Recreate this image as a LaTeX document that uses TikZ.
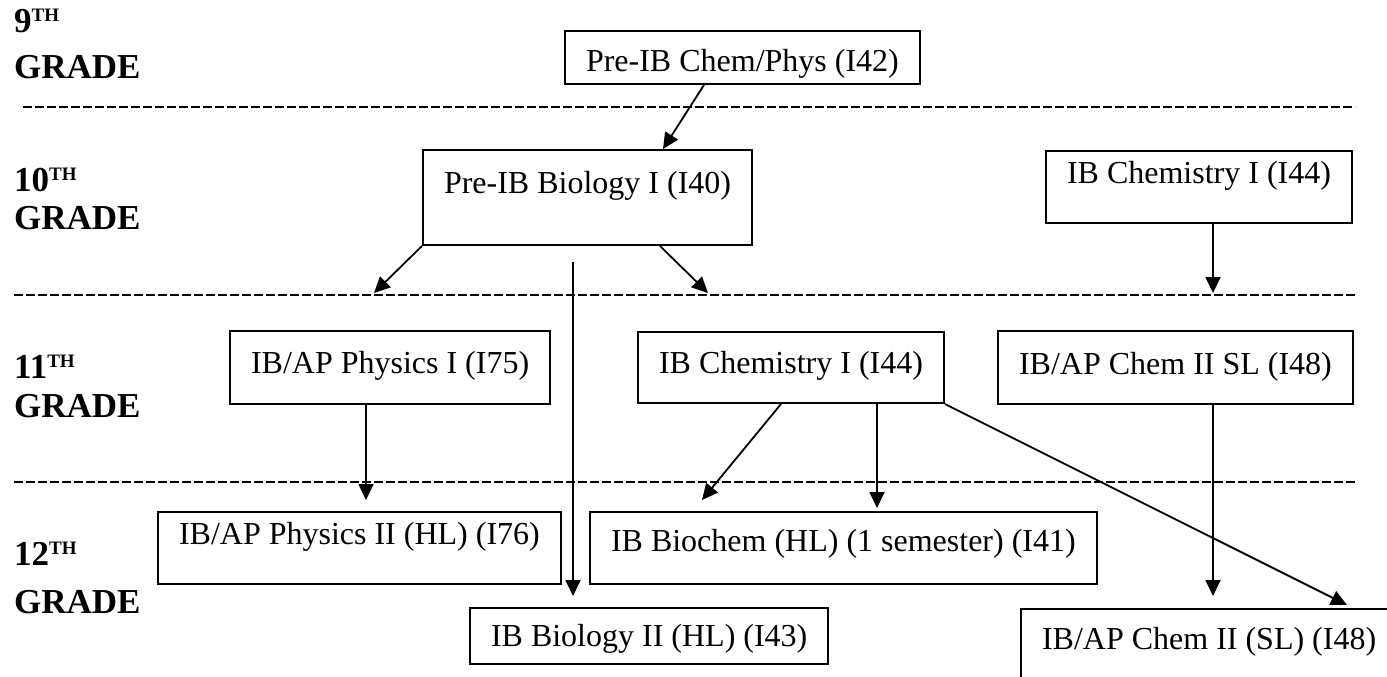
\documentclass[tikz,border=0pt]{standalone}
\usepackage{fontspec}
\setmainfont{Liberation Serif}
\usepackage{tikz}
\usetikzlibrary{arrows.meta}

\newcommand{\gradesup}[1]{\raisebox{11pt}{\fontsize{19}{19}\selectfont #1}}
\tikzset{
  course/.style={draw, line width=2pt, inner xsep=21pt, inner ysep=0pt, anchor=north west, font=\fontsize{32}{38}\selectfont},
  arr/.style={-{Triangle[length=16pt,width=15pt]}, line width=1.8pt},
  divider/.style={dash pattern=on 8.5pt off 3.5pt, line width=2.6pt},
  grade/.style={anchor=base west, inner sep=0pt, font=\fontsize{35}{40}\selectfont\bfseries}
}

\begin{document}
\begin{tikzpicture}[x=1pt,y=-1pt]
\useasboundingbox (0,0) rectangle (1387,677);
\node[grade] (n9) at (14,33) {9\gradesup{TH}};
\node[grade] (g9) at (14,78) {GRADE};
\node[grade] (n10) at (14,191) {10\gradesup{TH}};
\node[grade] (g10) at (14,229) {GRADE};
\node[grade] (n11) at (14,378) {11\gradesup{TH}};
\node[grade] (g11) at (14,417) {GRADE};
\node[grade] (n12) at (14,565) {12\gradesup{TH}};
\node[grade] (g12) at (14,613) {GRADE};
\draw[divider] (23,107) -- (1355,107);
\draw[divider] (14,295) -- (1355,295);
\draw[divider] (14,482) -- (1355,482);
\node[course, text height=40pt, text depth=13pt] (chemphys) at (564,30) {Pre-IB Chem/Phys (I42)};
\node[course, text height=43pt, text depth=52pt] (bio) at (422,149) {Pre-IB Biology I (I40)};
\node[course, text height=32pt, text depth=40pt] (chemten) at (1045,150) {IB Chemistry I (I44)};
\node[course, text height=42pt, text depth=31pt] (phys) at (229,330) {IB/AP Physics I (I75)};
\node[course, text height=41pt, text depth=30pt] (chem) at (637,331) {IB Chemistry I (I44)};
\node[course, text height=43pt, text depth=30pt] (chemsl) at (997,330) {IB/AP Chem II SL (I48)};
\node[course, text height=32pt, text depth=40pt] (physhl) at (157,511) {IB/AP Physics II (HL) (I76)};
\node[course, text height=39pt, text depth=33pt] (biochem) at (589,511) {IB Biochem (HL) (1 semester) (I41)};
\node[course, text height=38pt, text depth=18pt] (biohl) at (469,607) {IB Biology II (HL) (I43)};
\node[course, text height=40pt, text depth=60pt] (chemii) at (1020,608) {IB/AP Chem II (SL) (I48)\hspace{30pt}};
\coordinate (tphys) at (374,293);
\coordinate (tchem) at (708,293);
\coordinate (sbiohl) at (573,262);
\coordinate (tbiohl) at (573,596);
\coordinate (tchemsl) at (1213,293);
\coordinate (tphyshl) at (366,500);
\coordinate (tbiochema) at (702,500);
\coordinate (tbiochemb) at (877,508);
\coordinate (tchemiia) at (1213,596);
\coordinate (tchemiib) at (1347,605);
\draw[arr] ([xshift=140pt]chemphys.south west) -- ([xshift=241pt]bio.north west);
\draw[arr] (bio.south west) -- (tphys);
\draw[arr] ([xshift=238pt]bio.south west) -- (tchem);
\draw[arr] (sbiohl) -- (tbiohl);
\draw[arr] ([xshift=168pt]chemten.south west) -- (tchemsl);
\draw[arr] ([xshift=137pt]phys.south west) -- (tphyshl);
\draw[arr] ([xshift=144pt]chem.south west) -- (tbiochema);
\draw[arr] ([xshift=240pt]chem.south west) -- (tbiochemb);
\draw[arr] (chem.south east) -- (tchemiib);
\draw[arr] ([xshift=216pt]chemsl.south west) -- (tchemiia);
\end{tikzpicture}
\end{document}
